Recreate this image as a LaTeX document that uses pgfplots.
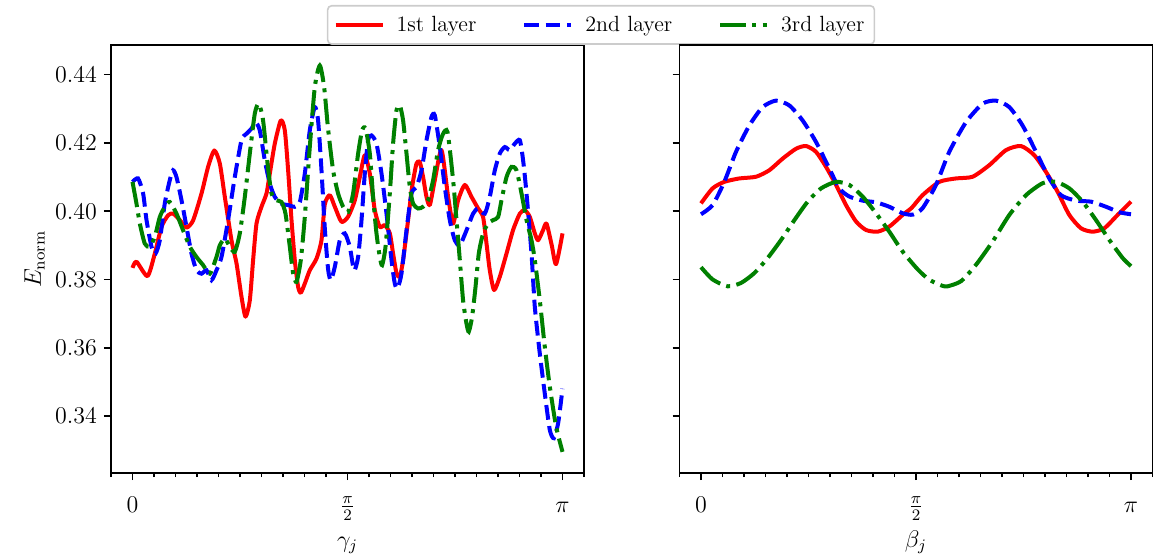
\documentclass[border=0pt]{standalone}
\usepackage{pgfplots}
\pgfplotsset{compat=1.18}
\definecolor{mplred}{RGB}{255,0,0}
\definecolor{mplblue}{RGB}{0,0,255}
\definecolor{mplgreen}{RGB}{0,128,0}
\pgfplotsset{
  base/.style={
    scale only axis, width=236.5pt, height=214pt,
    xmin=-0.05, xmax=1.05, ymin=0.3233, ymax=0.4487,
    xtick={0,0.5,1}, xticklabels={$0$,$\frac{\pi}{2}$,$\pi$},
    minor xtick={-0.05,0.05,0.1,0.15,0.2,0.25,0.3,0.35,0.4,0.45,0.55,0.6,0.65,0.7,0.75,0.8,0.85,0.9,0.95,1.05},
    ytick={0.34,0.36,0.38,0.40,0.42,0.44},
    tick align=outside, major tick length=3.5pt, minor tick length=2pt,
    xtick pos=bottom, ytick pos=left,
    every tick/.style={black, line width=0.8pt},
    axis line style={line width=0.8pt},
    font=\fontsize{12}{14}\selectfont,
    tick label style={font=\fontsize{12}{14}\selectfont},
    label style={font=\fontsize{12}{14}\selectfont},
    xticklabel style={anchor=base, yshift=-16.25pt},
    every axis x label/.style={at={(axis description cs:0.5,-0.1729)}, anchor=base},
    every axis y label/.style={at={(axis description cs:-0.148,0.5)}, rotate=90, anchor=base},
  },
  l1/.style={mplred, line width=2pt, smooth, tension=0.4, line join=round},
  l2/.style={mplblue, line width=2pt, smooth, tension=0.4, dash pattern=on 7.4pt off 3.2pt},
  l3/.style={mplgreen, line width=2pt, smooth, tension=0.4, dash pattern=on 12.8pt off 3.2pt on 2pt off 3.2pt},
}
\begin{document}
\begin{tikzpicture}
\useasboundingbox (0,0) rectangle (577.5pt,278.5pt);
\begin{axis}[base, at={(55.5pt,42pt)}, anchor=south west,
  yticklabels={0.34,0.36,0.38,0.40,0.42,0.44},
  xlabel={$\gamma_j$}, ylabel={$E_{\mathrm{norm}}$},
  legend columns=3,
  legend style={at={(1.036,1.0935)}, anchor=north, draw=black!20, line width=0.8pt, rounded corners=2pt,
    font=\fontsize{11}{13}\selectfont, inner xsep=3pt, inner ysep=3pt,
    /tikz/every odd column/.append style={column sep=4pt},
    /tikz/every even column/.append style={column sep=21pt}},
  legend image code/.code={\draw[#1] (0pt,0pt) -- (23.5pt,0pt);},
]
\addplot[l1] coordinates {
(0,0.3834)(0.0093,0.3852)(0.0349,0.3810)(0.0519,0.3876)(0.0674,0.3954)(0.0828,0.3988)
(0.0944,0.3993)(0.1100,0.3974)(0.1256,0.3952)(0.1409,0.3973)(0.1605,0.4052)(0.1758,0.4130)
(0.1902,0.4178)(0.2030,0.4140)(0.2147,0.4042)(0.2302,0.3915)(0.2419,0.3847)(0.2535,0.3749)
(0.2628,0.3691)(0.2728,0.3739)(0.2805,0.3857)(0.2884,0.3964)(0.3000,0.4013)(0.3116,0.4052)
(0.3193,0.4110)(0.3309,0.4198)(0.3449,0.4266)(0.3542,0.4237)(0.3619,0.4120)(0.3698,0.3974)
(0.3774,0.3857)(0.3851,0.3779)(0.3914,0.3761)(0.4007,0.3788)(0.4123,0.3827)(0.4279,0.3861)
(0.4395,0.3915)(0.4472,0.4020)(0.4588,0.4047)(0.4705,0.4013)(0.4860,0.3969)(0.5014,0.3984)
(0.5170,0.4032)(0.5286,0.4100)(0.5402,0.4164)(0.5519,0.4110)(0.5635,0.4003)(0.5751,0.3954)
(0.5867,0.3959)(0.5984,0.3935)(0.6060,0.3876)(0.6140,0.3818)(0.6216,0.3808)(0.6293,0.3857)
(0.6409,0.3974)(0.6502,0.4071)(0.6605,0.4140)(0.6681,0.4144)(0.6758,0.4100)(0.6837,0.4042)
(0.6914,0.4018)(0.7030,0.4091)(0.7186,0.4179)(0.7340,0.4042)(0.7456,0.3964)(0.7572,0.4032)
(0.7728,0.4077)(0.7884,0.4042)(0.8037,0.4008)(0.8153,0.3983)(0.8233,0.3905)(0.8309,0.3827)
(0.8409,0.3769)(0.8542,0.3808)(0.8698,0.3876)(0.8851,0.3945)(0.9007,0.3993)(0.9123,0.4003)
(0.9240,0.3983)(0.9356,0.3935)(0.9433,0.3915)(0.9549,0.3945)(0.9628,0.3964)(0.9750,0.3900)
(0.9850,0.3845)(1.0,0.3935)};
\addlegendentry{1st layer}
\addplot[l2] coordinates {
(0,0.4086)(0.0130,0.4096)(0.0247,0.4052)(0.0326,0.3974)(0.0442,0.3896)(0.0535,0.3876)
(0.0635,0.3915)(0.0751,0.4023)(0.0867,0.4091)(0.0944,0.4120)(0.1023,0.4100)(0.1140,0.4032)
(0.1256,0.3954)(0.1372,0.3876)(0.1488,0.3827)(0.1605,0.3817)(0.1721,0.3827)(0.1837,0.3798)
(0.1953,0.3827)(0.2070,0.3866)(0.2223,0.3974)(0.2379,0.4100)(0.2535,0.4208)(0.2651,0.4227)
(0.2767,0.4242)(0.2860,0.4261)(0.2960,0.4237)(0.3077,0.4149)(0.3193,0.4081)(0.3309,0.4042)
(0.3465,0.4022)(0.3619,0.4018)(0.3774,0.4013)(0.3891,0.4027)(0.4007,0.4110)(0.4123,0.4237)
(0.4240,0.4305)(0.4316,0.4266)(0.4395,0.4120)(0.4472,0.3950)(0.4549,0.3830)(0.4612,0.3798)
(0.4705,0.3837)(0.4821,0.3915)(0.4937,0.3935)(0.5053,0.3896)(0.5153,0.3827)(0.5247,0.3866)
(0.5326,0.3974)(0.5402,0.4110)(0.5479,0.4208)(0.5558,0.4222)(0.5674,0.4198)(0.5791,0.4110)
(0.5907,0.3993)(0.6023,0.3857)(0.6100,0.3788)(0.6163,0.3774)(0.6256,0.3818)(0.6372,0.3944)
(0.6488,0.4052)(0.6605,0.4071)(0.6721,0.4120)(0.6837,0.4208)(0.6953,0.4276)(0.7030,0.4281)
(0.7147,0.4188)(0.7263,0.4071)(0.7379,0.3974)(0.7495,0.3915)(0.7612,0.3900)(0.7767,0.3944)
(0.7921,0.3993)(0.8037,0.4008)(0.8193,0.3993)(0.8309,0.4042)(0.8426,0.4120)(0.8542,0.4169)
(0.8658,0.4188)(0.8774,0.4179)(0.8891,0.4198)(0.9007,0.4208)(0.9084,0.4149)(0.9163,0.4052)
(0.9279,0.3876)(0.9356,0.3720)(0.9472,0.3583)(0.9588,0.3466)(0.9705,0.3359)(0.9800,0.3335)
(0.9900,0.3380)(1.0,0.3480)};
\addlegendentry{2nd layer}
\addplot[l3] coordinates {
(0,0.4086)(0.0093,0.4022)(0.0170,0.3964)(0.0286,0.3905)(0.0402,0.3896)(0.0519,0.3925)
(0.0635,0.3983)(0.0751,0.4013)(0.0867,0.4027)(0.1023,0.3993)(0.1177,0.3944)(0.1333,0.3896)
(0.1488,0.3866)(0.1642,0.3842)(0.1798,0.3817)(0.1953,0.3866)(0.2030,0.3900)(0.2147,0.3920)
(0.2263,0.3896)(0.2379,0.3881)(0.2495,0.3935)(0.2612,0.4042)(0.2728,0.4169)(0.2844,0.4286)
(0.2937,0.4315)(0.3037,0.4266)(0.3140,0.4140)(0.3233,0.4052)(0.3349,0.4032)(0.3465,0.4027)
(0.3558,0.3993)(0.3658,0.3896)(0.3735,0.3818)(0.3814,0.3793)(0.3914,0.3857)(0.4007,0.3983)
(0.4123,0.4188)(0.4240,0.4364)(0.4356,0.4427)(0.4456,0.4364)(0.4549,0.4240)(0.4665,0.4120)
(0.4781,0.4052)(0.4898,0.4013)(0.5014,0.3998)(0.5130,0.4052)(0.5247,0.4169)(0.5340,0.4237)
(0.5419,0.4242)(0.5519,0.4169)(0.5595,0.4042)(0.5674,0.3935)(0.5751,0.3866)(0.5805,0.3842)
(0.5884,0.3896)(0.5984,0.4052)(0.6060,0.4198)(0.6140,0.4296)(0.6216,0.4310)(0.6293,0.4266)
(0.6372,0.4169)(0.6449,0.4071)(0.6526,0.4022)(0.6642,0.4008)(0.6758,0.4013)(0.6874,0.4032)
(0.6991,0.4091)(0.7107,0.4179)(0.7216,0.4225)(0.7326,0.4232)(0.7456,0.4091)(0.7535,0.3974)
(0.7612,0.3857)(0.7688,0.3739)(0.7767,0.3671)(0.7821,0.3647)(0.7898,0.3691)(0.7977,0.3778)
(0.8053,0.3876)(0.8153,0.3935)(0.8270,0.3964)(0.8386,0.3974)(0.8502,0.3983)(0.8581,0.4032)
(0.8698,0.4100)(0.8814,0.4130)(0.8930,0.4120)(0.9047,0.4052)(0.9163,0.3974)(0.9279,0.3915)
(0.9356,0.3857)(0.9472,0.3739)(0.9588,0.3603)(0.9705,0.3486)(0.9850,0.3370)(1.0,0.3295)};
\addlegendentry{3rd layer}
\end{axis}
\begin{axis}[base, at={(339.75pt,42pt)}, anchor=south west,
  yticklabels={}, xlabel={$\beta_j$}]
\addplot[l1] coordinates {
(0,0.4023)(0.0270,0.4067)(0.0542,0.4086)(0.0891,0.4096)(0.1279,0.4101)(0.1588,0.4120)
(0.1898,0.4154)(0.2209,0.4183)(0.2442,0.4191)(0.2674,0.4174)(0.2907,0.4130)(0.3140,0.4077)
(0.3372,0.4018)(0.3605,0.3970)(0.3837,0.3945)(0.4107,0.3940)(0.4379,0.3955)(0.4688,0.3989)
(0.4900,0.4010)(0.5153,0.4047)(0.5542,0.4086)(0.5930,0.4096)(0.6316,0.4101)(0.6705,0.4135)
(0.7093,0.4179)(0.7442,0.4191)(0.7751,0.4164)(0.8023,0.4115)(0.8293,0.4057)(0.8565,0.3989)
(0.8837,0.3950)(0.9107,0.3940)(0.9379,0.3950)(0.9688,0.3989)(1.0,0.4028)};
\addplot[l2] coordinates {
(0,0.3991)(0.0270,0.4018)(0.0542,0.4086)(0.0814,0.4174)(0.1123,0.4251)(0.1433,0.4305)
(0.1744,0.4324)(0.2053,0.4310)(0.2363,0.4266)(0.2674,0.4203)(0.2984,0.4125)(0.3216,0.4067)
(0.3449,0.4043)(0.3758,0.4031)(0.4070,0.4026)(0.4379,0.4013)(0.4688,0.3994)(0.4930,0.3990)
(0.5153,0.4009)(0.5465,0.4077)(0.5774,0.4174)(0.6163,0.4261)(0.6549,0.4315)(0.6860,0.4324)
(0.7170,0.4305)(0.7479,0.4251)(0.7791,0.4174)(0.8100,0.4096)(0.8372,0.4047)(0.8721,0.4031)
(0.9070,0.4028)(0.9419,0.4013)(0.9728,0.3997)(1.0,0.3991)};
\addplot[l3] coordinates {
(0,0.3836)(0.0270,0.3800)(0.0619,0.3780)(0.0933,0.3790)(0.1242,0.3819)(0.1551,0.3863)
(0.1863,0.3916)(0.2172,0.3974)(0.2481,0.4028)(0.2793,0.4067)(0.3140,0.4086)(0.3449,0.4077)
(0.3758,0.4043)(0.4070,0.3994)(0.4379,0.3940)(0.4688,0.3882)(0.5037,0.3830)(0.5300,0.3800)
(0.5600,0.3782)(0.5735,0.3780)(0.6047,0.3795)(0.6395,0.3843)(0.6781,0.3911)(0.7170,0.3989)
(0.7558,0.4047)(0.7944,0.4082)(0.8256,0.4086)(0.8565,0.4067)(0.8874,0.4028)(0.9186,0.3974)
(0.9495,0.3916)(0.9805,0.3863)(1.0,0.3839)};
\end{axis}
\end{tikzpicture}
\end{document}
